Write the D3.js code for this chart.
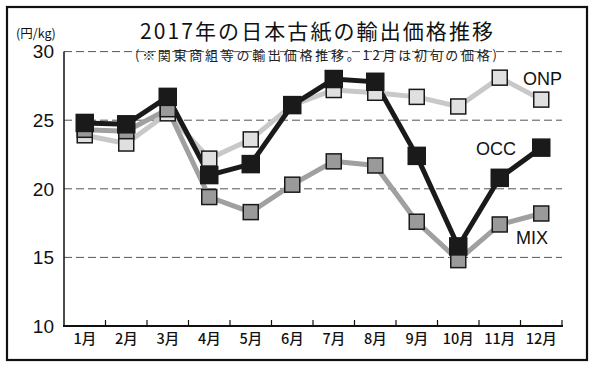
<!DOCTYPE html>
<html><head><meta charset="utf-8">
<script src="https://cdn.jsdelivr.net/npm/d3@7"></script>
<style>body{margin:0;background:#fff}svg{display:block}</style>
</head><body>
<svg id="c" width="597" height="366"></svg>
<script>
const months = ["1月","2月","3月","4月","5月","6月","7月","8月","9月","10月","11月","12月"];
const onp = [23.9,23.3,25.5,22.2,23.6,26.1,27.2,27.0,26.7,26.0,28.1,26.5];
const mix = [24.3,24.2,25.8,19.4,18.3,20.3,22.0,21.7,17.6,14.8,17.4,18.2];
const occ = [24.8,24.7,26.7,21.0,21.8,26.1,28.0,27.8,22.4,15.8,20.8,23.0];
const yTicks = [10,15,20,25,30];
const gridTicks = [15,20,25,30];

const svg = d3.select("#c");
const jp = "'Noto Sans CJK JP', sans-serif";
const num = "'Liberation Sans', Arial, sans-serif";

svg.append("rect").attr("x",7).attr("y",7).attr("width",580).attr("height",353)
  .attr("fill","none").attr("stroke","#111").attr("stroke-width",2.2);

const x = d3.scaleBand().domain(months).range([64,562]);
const y = d3.scaleLinear().domain([10,30]).range([326,51.6]);

// grid
svg.append("g").selectAll("line").data(gridTicks).join("line")
  .attr("x1",64).attr("x2",562).attr("y1",d=>y(d)).attr("y2",d=>y(d))
  .attr("stroke","#555").attr("stroke-width",1).attr("stroke-dasharray","8,4");

// y axis line
svg.append("line").attr("x1",64).attr("x2",64).attr("y1",y(30)).attr("y2",y(10))
  .attr("stroke","#111").attr("stroke-width",1.5);

// x axis
const xa = d3.axisBottom(x).tickSize(0).tickPadding(8);
const gx = svg.append("g").attr("transform",`translate(0,${y(10)})`).call(xa);
gx.select(".domain").remove();
gx.selectAll("text").attr("font-family",jp).attr("font-size",14.5).attr("font-weight",500).attr("fill","#111");
svg.append("line").attr("x1",63).attr("x2",563).attr("y1",y(10)).attr("y2",y(10))
  .attr("stroke","#111").attr("stroke-width",2.2);
const bounds = months.slice(1).map(m=>x(m)).concat([x.range()[1]]);
svg.append("g").selectAll("line").data(bounds).join("line")
  .attr("x1",d=>d).attr("x2",d=>d).attr("y1",y(10)).attr("y2",y(10)-6)
  .attr("stroke","#111").attr("stroke-width",1.2);

// y labels
svg.append("g").selectAll("text").data(yTicks).join("text")
  .attr("x",54).attr("y",d=>y(d)).attr("dy","0.36em").attr("text-anchor","end")
  .attr("font-family",num).attr("font-size",19).attr("fill","#111").text(d=>d);
svg.append("text").attr("x",16).attr("y",38).attr("font-family",jp).attr("font-size",12.5)
  .attr("fill","#111").text("(円/kg)");

// title
svg.append("text").attr("x",140).attr("y",39).attr("textLength",353).attr("lengthAdjust","spacing")
  .attr("font-family",jp).attr("font-size",21).attr("fill","#111").text("2017年の日本古紙の輸出価格推移");
svg.append("text").attr("x",135).attr("y",59.5).attr("textLength",362).attr("lengthAdjust","spacing")
  .attr("font-family",jp).attr("font-size",13).attr("fill","#222").text("(※関東商組等の輸出価格推移。12月は初旬の価格)");

const cx = d => x(d) + x.bandwidth()/2;
const line = d3.line().x((d,i)=>cx(months[i])).y(d=>y(d));

function series(vals, lineColor, lw){
  svg.append("path").datum(vals).attr("d",line).attr("fill","none")
    .attr("stroke",lineColor).attr("stroke-width",lw).attr("stroke-linejoin","miter");
}
function markers(vals, fill, size){
  svg.append("g").selectAll("rect").data(vals).join("rect")
    .attr("x",(d,i)=>cx(months[i])-size/2).attr("y",d=>y(d)-size/2)
    .attr("width",size).attr("height",size).attr("fill",fill)
    .attr("stroke","#1a1a1a").attr("stroke-width",1.5);
}
series(onp,"#c8c8c8",5);
series(mix,"#a0a0a0",5);
series(occ,"#1a1a1a",5);
markers(onp,"#e0e0e0",15);
markers(mix,"#9a9a9a",15);
markers(occ,"#1a1a1a",17);

// series labels
svg.append("text").attr("x",523).attr("y",85).attr("font-family",num).attr("font-size",18).attr("fill","#111").text("ONP");
svg.append("text").attr("x",476).attr("y",155).attr("font-family",num).attr("font-size",18).attr("fill","#111").text("OCC");
svg.append("text").attr("x",516).attr("y",244).attr("font-family",num).attr("font-size",18).attr("fill","#111").text("MIX");
</script>
</body></html>
